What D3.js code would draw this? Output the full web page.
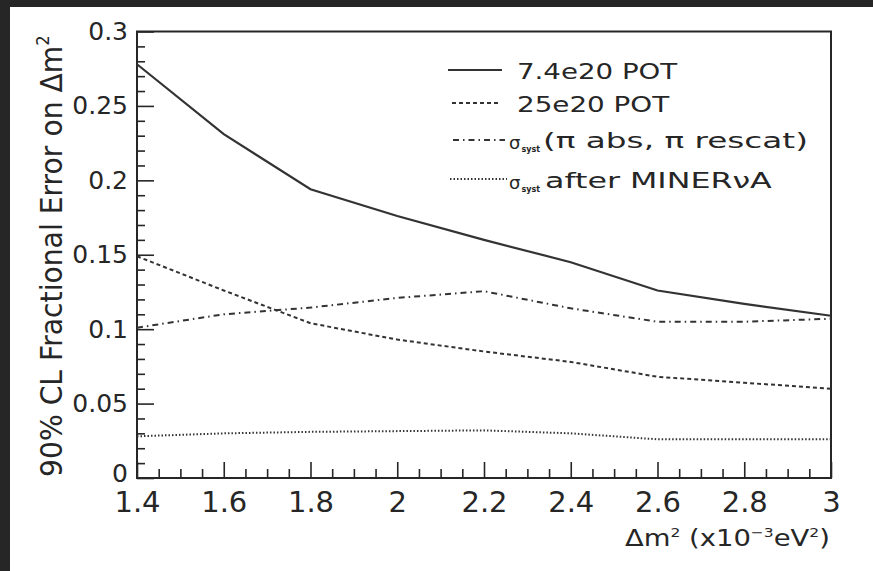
<!DOCTYPE html>
<html>
<head>
<meta charset="utf-8">
<script src="https://cdn.jsdelivr.net/npm/d3@7"></script>
<style>
  html, body { margin: 0; padding: 0; background: #262626; }
  svg { display: block; }
</style>
</head>
<body>
<svg id="chart" width="873" height="571"></svg>
<script>
// Δm² grid (x10^-3 eV^2) and the 90% CL fractional error on Δm² for each case
const massSplitting   = [1.4, 1.6, 1.8, 2.0, 2.2, 2.4, 2.6, 2.8, 3.0];
const errPot74        = [0.278, 0.231, 0.194, 0.176, 0.160, 0.145, 0.126, 0.117, 0.109];
const errPot25        = [0.149, 0.126, 0.104, 0.093, 0.085, 0.078, 0.068, 0.064, 0.060];
const errSystPion     = [0.101, 0.110, 0.1145, 0.121, 0.1255, 0.114, 0.105, 0.105, 0.107];
const errSystMinerva  = [0.028, 0.030, 0.031, 0.0315, 0.032, 0.030, 0.026, 0.026, 0.026];

const xTickValues = [1.4, 1.6, 1.8, 2.0, 2.2, 2.4, 2.6, 2.8, 3.0];
const xTickLabels = ["1.4", "1.6", "1.8", "2", "2.2", "2.4", "2.6", "2.8", "3"];
const yTickValues = [0, 0.05, 0.1, 0.15, 0.2, 0.25, 0.3];
const yTickLabels = ["0", "0.05", "0.1", "0.15", "0.2", "0.25", "0.3"];

const legendLabels = ["7.4e20 POT", "25e20 POT", "(\u03c0 abs, \u03c0 rescat)", "after MINER\u03bdA"];

const W = 873, H = 571;
const ink = "#262626";
const font = "'DejaVu Sans', sans-serif";

const svg = d3.select("#chart");
svg.append("rect").attr("width", W).attr("height", H).attr("fill", "#262626");
svg.append("rect").attr("x", 10).attr("y", 7).attr("width", W - 10).attr("height", H - 7).attr("fill", "#ffffff");

const x = d3.scaleLinear().domain([1.4, 3.0]).range([137, 831]);
const y = d3.scaleLinear().domain([0, 0.3]).range([478, 31.5]);

// minor ticks: every 0.05 on x, every 0.01 on y
const xMinor = d3.range(28, 61).map(i => i / 20).filter(v => !xTickValues.some(t => Math.abs(t - v) < 1e-9));
const yMinor = d3.range(0, 31).map(i => i / 100).filter(v => !yTickValues.some(t => Math.abs(t - v) < 1e-9));

function styleAxis(g, size) {
  g.select(".domain").remove();
  g.selectAll(".tick line").attr("stroke", ink).attr("stroke-width", 1.6);
  g.selectAll(".tick text").attr("fill", ink).attr("font-family", font).attr("font-size", size);
}

// x axis (ticks point into the frame)
svg.append("g").attr("transform", `translate(0,${y(0)})`)
  .call(d3.axisBottom(x).tickValues(xMinor).tickSizeInner(-9).tickSizeOuter(0).tickFormat(""))
  .call(g => styleAxis(g, 0));
svg.append("g").attr("transform", `translate(0,${y(0)})`)
  .call(d3.axisBottom(x).tickValues(xTickValues).tickSizeInner(-16).tickSizeOuter(0).tickPadding(13)
    .tickFormat((d, i) => xTickLabels[i]))
  .call(g => styleAxis(g, 29));

// y axis
svg.append("g").attr("transform", `translate(${x(1.4)},0)`)
  .call(d3.axisLeft(y).tickValues(yMinor).tickSizeInner(-8).tickSizeOuter(0).tickFormat(""))
  .call(g => styleAxis(g, 0));
svg.append("g").attr("transform", `translate(${x(1.4)},0)`)
  .call(d3.axisLeft(y).tickValues(yTickValues).tickSizeInner(-17).tickSizeOuter(0).tickPadding(9)
    .tickFormat((d, i) => yTickLabels[i]))
  .call(g => styleAxis(g, 25))
  .call(g => g.selectAll(".tick text").filter(d => d === 0).attr("dy", "0.12em"));

// frame
svg.append("rect")
  .attr("x", x(1.4)).attr("y", y(0.3))
  .attr("width", x(3.0) - x(1.4)).attr("height", y(0) - y(0.3))
  .attr("fill", "none").attr("stroke", ink).attr("stroke-width", 2);

// curves
const series = [
  { values: errPot74,       dash: null,          width: 2.2 },
  { values: errPot25,       dash: "4,3",         width: 2 },
  { values: errSystPion,    dash: "6,4,1.5,4",   width: 2 },
  { values: errSystMinerva, dash: "1.5,2",       width: 2 }
];
const line = d3.line().x((d, i) => x(massSplitting[i])).y(d => y(d));
svg.append("g").selectAll("path").data(series).join("path")
  .attr("d", s => line(s.values))
  .attr("fill", "none")
  .attr("stroke", "#333")
  .attr("stroke-width", s => s.width)
  .attr("stroke-dasharray", s => s.dash);

// text stretched horizontally to a given extent
function fitText(parent, opt) {
  const t = parent.append("text")
    .attr("font-family", font).attr("font-size", opt.size).attr("fill", ink);
  opt.build(t);
  const w = t.node().getBBox().width;
  const k = opt.width / w;
  t.attr("transform", `translate(${opt.x},${opt.y})${opt.rotate ? " rotate(-90)" : ""} scale(${k},1)`);
  return t;
}

// legend
const legend = svg.append("g");
const legendRows = [
  { y: 70,  x1: 448, x2: 502 },
  { y: 103, x1: 452, x2: 500 },
  { y: 140, x1: 453, x2: 505 },
  { y: 179, x1: 450, x2: 507 }
];
legend.selectAll("line").data(series).join("line")
  .attr("x1", (s, i) => legendRows[i].x1).attr("x2", (s, i) => legendRows[i].x2)
  .attr("y1", (s, i) => legendRows[i].y).attr("y2", (s, i) => legendRows[i].y)
  .attr("stroke", "#333").attr("stroke-width", s => s.width)
  .attr("stroke-dasharray", s => s.dash);

fitText(legend, { x: 517, y: 79, width: 161, size: 22, build: t => t.text(legendLabels[0]) });
fitText(legend, { x: 517, y: 111.7, width: 153, size: 22, build: t => t.text(legendLabels[1]) });

[[149, legendLabels[2], 543, 265], [189, legendLabels[3], 545, 227]].forEach(([by, label, tx, tw]) => {
  legend.append("text").attr("x", 509).attr("y", by).attr("font-family", font)
    .attr("font-size", 18).attr("fill", ink).text("\u03c3");
  legend.append("text").attr("x", 521.5).attr("y", by + 3).attr("font-family", font)
    .attr("font-size", 8).attr("font-weight", "bold").attr("fill", ink).text("syst");
  fitText(legend, { x: tx, y: by - 0.7, width: tw, size: 22, build: t => t.text(label) });
});

// axis titles
fitText(svg, {
  x: 625, y: 545.5, width: 205, size: 23,
  build: t => {
    t.append("tspan").text("\u0394m");
    t.append("tspan").attr("font-size", 13).attr("dy", -9).text("2");
    t.append("tspan").attr("dy", 9).text(" (x10");
    t.append("tspan").attr("font-size", 13).attr("dy", -9).text("\u22123");
    t.append("tspan").attr("dy", 9).text("eV");
    t.append("tspan").attr("font-size", 13).attr("dy", -9).text("2");
    t.append("tspan").attr("dy", 9).text(")");
  }
});

fitText(svg, {
  x: 62, y: 477, width: 442, size: 31, rotate: true,
  build: t => {
    t.append("tspan").text("90% CL Fractional Error on \u0394m");
    t.append("tspan").attr("font-size", 18).attr("dy", -13).text("2");
  }
});
</script>
</body>
</html>
